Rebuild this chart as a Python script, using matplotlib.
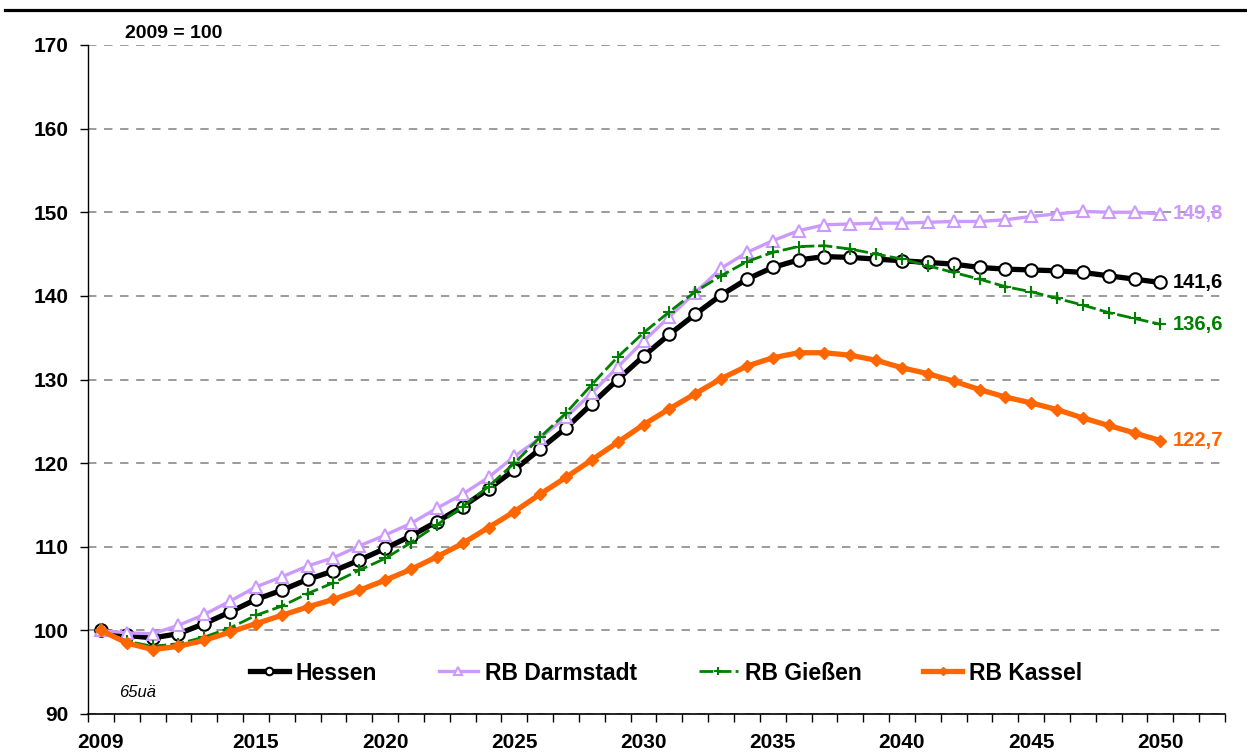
import numpy as np
import matplotlib
matplotlib.use("Agg")
import matplotlib.pyplot as plt
from matplotlib.lines import Line2D

plt.rcParams['font.family'] = ['Liberation Sans', 'DejaVu Sans']

# Werte 2009 = 100
years = list(range(2009, 2051))
hessen = [100.0, 99.4, 99.1, 99.6, 100.8, 102.2, 103.7, 104.8, 106.1, 107.1,
          108.4, 109.8, 111.3, 113.0, 114.8, 116.9, 119.2, 121.7, 124.2, 127.1,
          130.0, 132.8, 135.4, 137.8, 140.1, 142.0, 143.4, 144.3, 144.7, 144.6,
          144.4, 144.2, 144.0, 143.8, 143.4, 143.2, 143.1, 143.0, 142.8, 142.4,
          142.0, 141.6]
darmstadt = [100.0, 99.7, 99.6, 100.6, 101.9, 103.5, 105.2, 106.4, 107.7, 108.7,
             110.1, 111.4, 112.8, 114.6, 116.3, 118.3, 120.8, 123.0, 125.5, 128.4,
             131.5, 134.6, 137.5, 140.4, 143.3, 145.2, 146.6, 147.8, 148.5, 148.6,
             148.7, 148.7, 148.8, 148.9, 148.9, 149.1, 149.5, 149.8, 150.1, 150.0,
             150.0, 149.8]
giessen = [100.0, 98.7, 98.1, 98.4, 99.2, 100.3, 101.8, 102.9, 104.4, 105.7,
           107.2, 108.6, 110.5, 112.6, 114.8, 117.2, 120.0, 123.1, 126.0, 129.4,
           132.7, 135.6, 138.1, 140.5, 142.4, 144.1, 145.2, 145.9, 146.0, 145.6,
           145.0, 144.4, 143.6, 142.8, 142.0, 141.1, 140.5, 139.7, 138.9, 138.0,
           137.3, 136.6]
kassel = [100.0, 98.5, 97.7, 98.1, 98.8, 99.8, 100.8, 101.8, 102.8, 103.7,
          104.8, 106.0, 107.3, 108.8, 110.4, 112.3, 114.2, 116.3, 118.3, 120.4,
          122.5, 124.6, 126.5, 128.3, 130.1, 131.6, 132.6, 133.2, 133.2, 132.9,
          132.3, 131.4, 130.7, 129.8, 128.8, 127.9, 127.2, 126.4, 125.4, 124.5,
          123.6, 122.7]
end_labels = ['141,6', '149,8', '136,6', '122,7']
label_years = [2009, 2015, 2020, 2025, 2030, 2035, 2040, 2045, 2050]

fig = plt.figure(figsize=(12.47, 7.55), dpi=100)
ax = fig.add_axes([88/1247, 1-714/755, (1225-88)/1247, (714-45)/755])

ax.plot(years, hessen, color='black', lw=3.8, marker='o', ms=9,
        mfc='white', mec='black', mew=1.5, label='Hessen')
ax.plot(years, darmstadt, color='#CC99FF', lw=2.4, marker='^', ms=9,
        mfc='white', mec='#CC99FF', mew=1.5, label='RB Darmstadt')
ax.plot(years, giessen, color='#008000', lw=2, ls=(0, (5, 1.5)), marker='+',
        ms=9, mew=1.5, label='RB Gießen')
ax.plot(years, kassel, color='#FF6600', lw=3.8, marker='D', ms=6.5,
        mfc='#FF6600', mec='#FF6600', label='RB Kassel')

# Werte am Ende der Linien
for vals, txt, col in zip([hessen, darmstadt, giessen, kassel], end_labels,
                          ['black', '#CC99FF', '#008000', '#FF6600']):
    ax.annotate(txt, (years[-1], vals[-1]), xytext=(9, 0),
                textcoords='offset points', ha='left', va='center',
                fontsize=14.5, fontweight='bold', color=col)

ax.set_xlim(2008.5, 2052.5)
ax.set_ylim(90, 170)
ax.set_yticks(range(90, 171, 10))
ax.set_xticks(label_years)
ax.set_xticks(np.arange(2008.5, 2053, 1), minor=True)
ax.tick_params(axis='x', which='major', length=0, pad=14, labelsize=15)
ax.tick_params(axis='x', which='minor', length=6, width=1, direction='out')
ax.tick_params(axis='y', length=6, width=1, direction='out', pad=8, labelsize=15)
for lab in ax.get_xticklabels() + ax.get_yticklabels():
    lab.set_fontweight('bold')

ax.yaxis.grid(True, color='#808080', lw=1.1, ls=(0, (5.5, 5)))
ax.set_axisbelow(True)
for s in ['top', 'right']:
    ax.spines[s].set_visible(False)
ax.spines['left'].set_linewidth(1)
ax.spines['bottom'].set_linewidth(1.2)

leg = ax.legend(loc='center', bbox_to_anchor=(666/1247, 1-673/755),
                bbox_transform=fig.transFigure, ncol=4, frameon=False,
                prop={'weight': 'bold', 'size': 16.5}, handlelength=1.7,
                handletextpad=0.3, columnspacing=2.7, markerscale=0.6)

ax.text(2009.7, 92.6, '65uä', fontsize=12, style='italic', ha='left', va='center')
fig.text(125/1247, 1-33/755, '2009 = 100', fontsize=14, fontweight='bold',
         ha='left', va='center')
fig.add_artist(Line2D([5/1247, 1], [1-10/755, 1-10/755], color='black', lw=2.3))

fig.savefig('out.png', dpi=100)
